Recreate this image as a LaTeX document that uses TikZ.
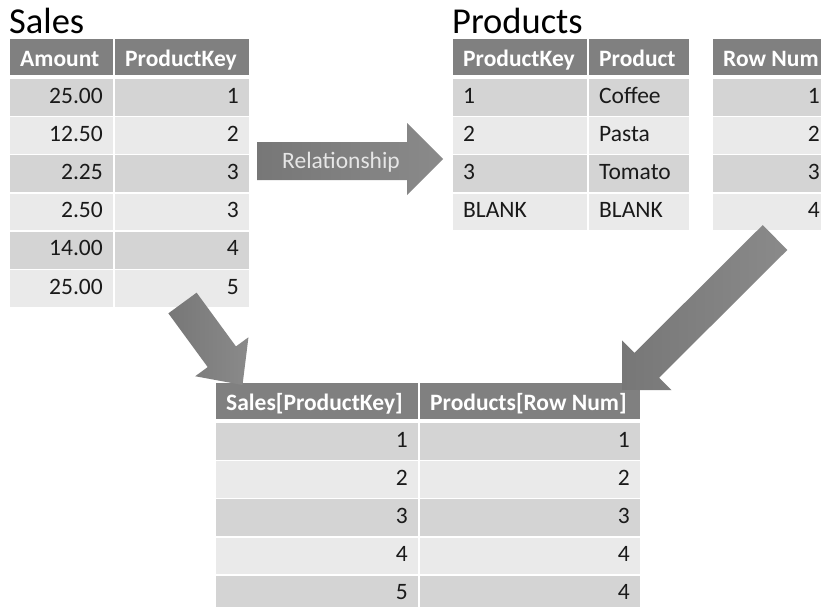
\documentclass[tikz,border=0pt]{standalone}
\usepackage{fontspec}
\setmainfont{Carlito}
\usetikzlibrary{calc}

\definecolor{hdrgray}{HTML}{808080}
\definecolor{rowdark}{HTML}{D4D4D4}
\definecolor{rowlight}{HTML}{EAEAEA}
\definecolor{arrowdark}{HTML}{777777}
\definecolor{arrowlight}{HTML}{8A8A8A}
\definecolor{reltext}{HTML}{E6E6E6}
\definecolor{celltext}{HTML}{1A1A1A}

\tikzset{
  cellbox/.style={inner sep=0pt, outer sep=0pt, anchor=north west, draw=none},
  hdrtext/.style={font=\fontsize{23.5}{28}\selectfont\bfseries, text=white, inner sep=0pt},
  bodytext/.style={font=\fontsize{23.5}{28}\selectfont, text=celltext, inner sep=0pt},
  tabtitle/.style={font=\fontsize{36.5}{42}\selectfont, text=black, inner sep=0pt, anchor=base west},
  blockarrow/.style={left color=arrowdark, right color=arrowlight, draw=none},
}

% header cell: name, x, y, width, text
\newcommand\hcell[5]{%
  \node[cellbox, fill=hdrgray, minimum width=#4pt, minimum height=36pt] (#1) at (#2,#3) {};
  \node[hdrtext, anchor=base west] (#1-t) at ($(#1.north west)+(10,27)$) {#5};
}
% body cell, text right aligned: name, x, y, width, fill, text
\newcommand\bcellR[6]{%
  \node[cellbox, fill=#5, minimum width=#4pt, minimum height=36.8pt] (#1) at (#2,#3) {};
  \node[bodytext, anchor=base east] (#1-t) at ($(#1.north east)+(-10,24)$) {#6};
}
% body cell, text left aligned
\newcommand\bcellL[6]{%
  \node[cellbox, fill=#5, minimum width=#4pt, minimum height=36.8pt] (#1) at (#2,#3) {};
  \node[bodytext, anchor=base west] (#1-t) at ($(#1.north west)+(10,24)$) {#6};
}

\begin{document}
\begin{tikzpicture}[x=1pt, y=-1pt]
\useasboundingbox (0,0) rectangle (821,606);
\clip (0,0) rectangle (821,606);
\fill[white] (0,0) rectangle (821,606);

% ---- Sales ----
\node[tabtitle] (salesT) at (9,33) {Sales};
\hcell{s-h1}{10}{39}{103}{Amount}
\hcell{s-h2}{115}{39}{134}{ProductKey}
\foreach \a/\k [count=\i] in {25.00/1,12.50/2,2.25/3,2.50/3,14.00/4,25.00/5} {
  \pgfmathsetmacro\ry{79+38.2*(\i-1)}
  \ifodd\i \def\rf{rowdark}\else \def\rf{rowlight}\fi
  \bcellR{s-a\i}{10}{\ry}{103}{\rf}{\a}
  \bcellR{s-k\i}{115}{\ry}{134}{\rf}{\k}
}

% ---- Products ----
\node[tabtitle] (prodT) at (452,33) {Products};
\hcell{p-h1}{453}{39}{134}{ProductKey}
\hcell{p-h2}{589}{39}{100}{Product}
\foreach \k/\p [count=\i] in {1/Coffee,2/Pasta,3/Tomato,BLANK/BLANK} {
  \pgfmathsetmacro\ry{79+38.2*(\i-1)}
  \ifodd\i \def\rf{rowdark}\else \def\rf{rowlight}\fi
  \bcellL{p-k\i}{453}{\ry}{134}{\rf}{\k}
  \bcellL{p-p\i}{589}{\ry}{100}{\rf}{\p}
}

% ---- Row Num column ----
\hcell{r-h1}{713}{39}{117}{Row Num}
\foreach \n [count=\i] in {1,2,3,4} {
  \pgfmathsetmacro\ry{79+38.2*(\i-1)}
  \ifodd\i \def\rf{rowdark}\else \def\rf{rowlight}\fi
  \bcellR{r-n\i}{713}{\ry}{117}{\rf}{\n}
}

% ---- Result table ----
\hcell{c-h1}{216}{383}{202}{Sales[ProductKey]}
\hcell{c-h2}{420}{383}{220}{Products[Row Num]}
\foreach \a/\b [count=\i] in {1/1,2/2,3/3,4/4,5/4} {
  \pgfmathsetmacro\ry{423+38.2*(\i-1)}
  \ifodd\i \def\rf{rowdark}\else \def\rf{rowlight}\fi
  \bcellR{c-a\i}{216}{\ry}{202}{\rf}{\a}
  \bcellR{c-b\i}{420}{\ry}{220}{\rf}{\b}
}

% ---- Block arrows ----
% Relationship: Sales -> Products
\path[blockarrow] (257,142) -- (407,142) -- (407,123) -- (443,159)
  -- (407,195) -- (407,180) -- (257,180) -- cycle;
\node[font=\fontsize{23.5}{28}\selectfont, text=reltext, inner sep=0pt, anchor=base] (rel) at (341,168) {Relationship};

% Sales -> result table
\begin{scope}[shift={(182.5,303)}, rotate=-53.8]
  \path[blockarrow] (0,-17.5) -- (66.6,-17.5) -- (66.6,-33) -- (101.6,0)
    -- (66.6,33) -- (66.6,17.5) -- (0,17.5) -- cycle;
\end{scope}

% Row Num -> result table
\begin{scope}[shift={(775,237.5)}, rotate=-135.1]
  \path[blockarrow] (0,-17.5) -- (181,-17.5) -- (181,-35) -- (216,0)
    -- (181,35) -- (181,17.5) -- (0,17.5) -- cycle;
\end{scope}
\end{tikzpicture}
\end{document}
